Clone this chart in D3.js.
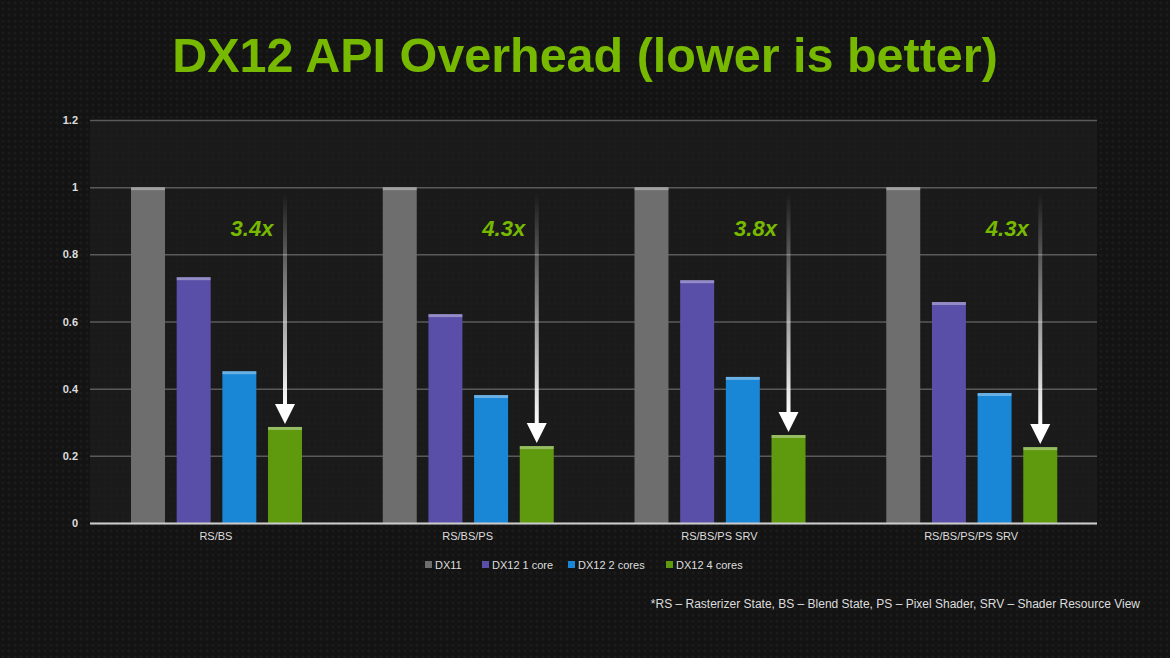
<!DOCTYPE html><html><head><meta charset="utf-8">
<script src="https://cdn.jsdelivr.net/npm/d3@7"></script>
<style>body{margin:0;background:#121212;}svg{display:block;font-family:Arial,"Liberation Sans",sans-serif;}</style></head><body>
<svg id="c" width="1170" height="658"></svg>
<script>
const categories=["RS/BS","RS/BS/PS","RS/BS/PS SRV","RS/BS/PS/PS SRV"];
const seriesNames=["DX11","DX12 1 core","DX12 2 cores","DX12 4 cores"];
const dx11=[1,1,1,1];
const dx12_1=[0.732,0.622,0.723,0.658];
const dx12_2=[0.452,0.381,0.435,0.387];
const dx12_4=[0.286,0.229,0.262,0.226];
const speedups=["3.4x","4.3x","3.8x","4.3x"];
const yTicks=[0,0.2,0.4,0.6,0.8,1,1.2];
const colors=["#6e6e6e","#5a4fa8","#1a86d6","#5f9a0e"];
const series=[dx11,dx12_1,dx12_2,dx12_4];

const svg=d3.select("#c");
const defs=svg.append("defs");
const pat=defs.append("pattern").attr("id","hex").attr("width",6).attr("height",6).attr("patternUnits","userSpaceOnUse");
pat.append("rect").attr("width",6).attr("height",6).attr("fill","#131313");
pat.append("circle").attr("cx",3).attr("cy",3).attr("r",1.6).attr("fill","#1b1b1b");
svg.append("rect").attr("width",1170).attr("height",658).attr("fill","url(#hex)");
const ag=defs.append("linearGradient").attr("id","arr").attr("x1",0).attr("y1",0).attr("x2",0).attr("y2",1);
ag.append("stop").attr("offset","0").attr("stop-color","#fff").attr("stop-opacity",0);
ag.append("stop").attr("offset","1").attr("stop-color","#fff").attr("stop-opacity",1);

svg.append("text").attr("x",585).attr("y",72).attr("text-anchor","middle").attr("font-size",48.5).attr("font-weight","bold").attr("fill","#76b900").text("DX12 API Overhead (lower is better)");

const x0=d3.scaleBand().domain(categories).range([90,1097]);
const y=d3.scaleLinear().domain([0,1.2]).range([523,120]);
const x1=d3.scaleBand().domain(d3.range(4)).range([41,212]).paddingInner(0.256);

svg.append("rect").attr("x",90).attr("y",120).attr("width",1007).attr("height",403).attr("fill","#1c1c1c").attr("opacity",0.85);
const ya=svg.append("g").attr("transform","translate(90,0)").call(d3.axisLeft(y).tickValues(yTicks).tickSize(-1007).tickFormat(d3.format("~g")));
ya.select(".domain").remove();
ya.selectAll(".tick line").attr("stroke","#5a5a5a").attr("stroke-width",1.5);
ya.selectAll(".tick text").attr("fill","#ddd").attr("font-size",11).attr("font-weight","bold").attr("x",-12);

categories.forEach((c,i)=>{
  const g=svg.append("g").attr("transform",`translate(${x0(c)},0)`);
  series.forEach((s,k)=>{
    g.append("rect").attr("x",x1(k)).attr("y",y(s[i])).attr("width",x1.bandwidth()).attr("height",y(0)-y(s[i])).attr("fill",colors[k]);
    g.append("rect").attr("x",x1(k)).attr("y",y(s[i])).attr("width",x1.bandwidth()).attr("height",3).attr("fill","#fff").attr("opacity",0.35);
  });
  const ax=x1(3)+x1.bandwidth()/2, tip=y(dx12_4[i])-3;
  g.append("rect").attr("x",ax-2).attr("y",y(0.98)).attr("width",4).attr("height",tip-18-y(0.98)).attr("fill","url(#arr)");
  g.append("path").attr("d",`M${ax-10},${tip-20}L${ax+10},${tip-20}L${ax},${tip}Z`).attr("fill","#fff");
  g.append("text").attr("x",ax-33).attr("y",236).attr("text-anchor","middle").attr("font-size",22).attr("font-weight","bold").attr("font-style","italic").attr("fill","#76b900").text(speedups[i]);
});
svg.append("line").attr("x1",90).attr("x2",1097).attr("y1",523.5).attr("y2",523.5).attr("stroke","#ccc").attr("stroke-width",2);
const xa=svg.append("g").attr("transform","translate(0,523)").call(d3.axisBottom(x0).tickSize(0));
xa.select(".domain").remove();
xa.selectAll("text").attr("fill","#ddd").attr("font-size",11).attr("dy",14);

const legX=[425,482,568,666];
seriesNames.forEach((n,k)=>{
  svg.append("rect").attr("x",legX[k]).attr("y",561).attr("width",7).attr("height",7).attr("fill",colors[k]);
  svg.append("text").attr("x",legX[k]+10).attr("y",569).attr("fill","#ddd").attr("font-size",11).text(n);
});
svg.append("text").attr("x",1140).attr("y",608).attr("text-anchor","end").attr("fill","#ddd").attr("font-size",12).text("*RS – Rasterizer State, BS – Blend State, PS – Pixel Shader, SRV – Shader Resource View");
</script></body></html>
